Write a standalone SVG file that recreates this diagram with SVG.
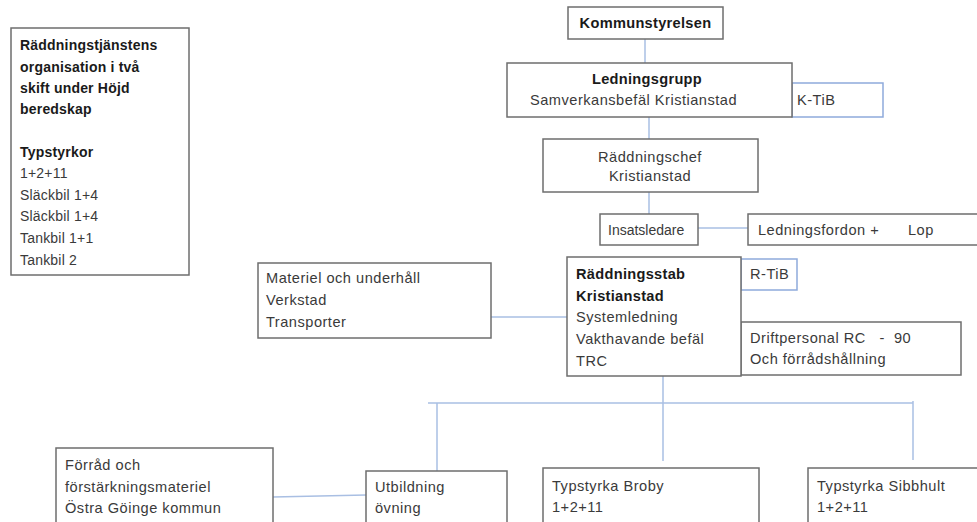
<svg xmlns="http://www.w3.org/2000/svg" width="977" height="522" viewBox="0 0 977 522">
<style>
  .box{fill:#fff;stroke:#6e6e6e;stroke-width:1.5}
  .bbox{fill:#fff;stroke:#8eaadb;stroke-width:1.5}
  .con{stroke:#a9bfe3;stroke-width:1.5;fill:none}
  text{font-family:"Liberation Sans",Arial,sans-serif;font-size:14.6px;fill:#3a3a3a;letter-spacing:0.5px}
  .b{font-weight:bold;fill:#1a1a1a;letter-spacing:0.3px}
  .s{font-size:14px;letter-spacing:0.2px}
  .m{text-anchor:middle}
</style>
<rect width="977" height="522" fill="#fff"/>
<g id="connectors">
  <line class="con" x1="645" y1="39" x2="645" y2="63"/>
  <line class="con" x1="649" y1="117" x2="649" y2="139"/>
  <line class="con" x1="649" y1="192" x2="649" y2="214"/>
  <line class="con" x1="698" y1="228" x2="748" y2="228"/>
  <line class="con" x1="491" y1="317" x2="567" y2="317"/>
  <line class="con" x1="663" y1="376" x2="663" y2="461"/>
  <line class="con" x1="428" y1="403" x2="913" y2="403"/>
  <line class="con" x1="437" y1="403" x2="437" y2="471"/>
  <line class="con" x1="913" y1="401" x2="913" y2="460"/>
  <line class="con" x1="273" y1="497" x2="366" y2="495"/>
</g>
<g id="info">
  <rect class="box" x="11" y="28" width="178" height="247"/>
  <text class="b s" x="20" y="50">Räddningstjänstens</text>
  <text class="b s" x="20" y="72">organisation i två</text>
  <text class="b s" x="20" y="93">skift under Höjd</text>
  <text class="b s" x="20" y="114">beredskap</text>
  <text class="b s" x="20" y="157">Typstyrkor</text>
  <text class="s" x="20" y="178">1+2+11</text>
  <text class="s" x="20" y="200">Släckbil 1+4</text>
  <text class="s" x="20" y="221">Släckbil 1+4</text>
  <text class="s" x="20" y="243">Tankbil 1+1</text>
  <text class="s" x="20" y="265">Tankbil 2</text>
</g>
<g id="kommunstyrelsen">
  <rect class="box" x="568" y="7" width="155" height="32"/>
  <text class="b m" x="645.5" y="28">Kommunstyrelsen</text>
</g>
<g id="ktib">
  <rect class="bbox" x="792" y="83" width="91" height="34"/>
  <text x="797" y="105">K-TiB</text>
</g>
<g id="ledningsgrupp">
  <rect class="box" x="507" y="63" width="285" height="54"/>
  <text class="b m" x="647" y="84">Ledningsgrupp</text>
  <text x="530" y="105">Samverkansbefäl Kristianstad</text>
</g>
<g id="raddningschef">
  <rect class="box" x="543" y="139" width="215" height="53"/>
  <text class="m" x="650" y="162">Räddningschef</text>
  <text class="m" x="650" y="181">Kristianstad</text>
</g>
<g id="insatsledare">
  <rect class="box" x="600" y="214" width="98" height="31"/>
  <text x="608" y="235" style="letter-spacing:0px;font-size:14px">Insatsledare</text>
</g>
<g id="ledningsfordon">
  <rect class="box" x="748" y="214" width="240" height="31"/>
  <text x="758" y="235">Ledningsfordon +</text>
  <text x="908" y="235">Lop</text>
</g>
<g id="materiel">
  <rect class="box" x="258" y="263" width="233" height="75"/>
  <text x="266" y="283">Materiel och underhåll</text>
  <text x="266" y="305">Verkstad</text>
  <text x="266" y="327">Transporter</text>
</g>
<g id="rtib">
  <rect class="bbox" x="741" y="259" width="56" height="31"/>
  <text x="750" y="279">R-TiB</text>
</g>
<g id="driftpersonal">
  <rect class="box" x="741" y="322" width="220" height="53"/>
  <text x="750" y="343" xml:space="preserve">Driftpersonal RC   -  90</text>
  <text x="750" y="364">Och förrådshållning</text>
</g>
<g id="raddningsstab">
  <rect class="box" x="567" y="257" width="174" height="119"/>
  <text class="b" x="576" y="279">Räddningsstab</text>
  <text class="b" x="576" y="301">Kristianstad</text>
  <text x="576" y="322">Systemledning</text>
  <text x="576" y="344">Vakthavande befäl</text>
  <text x="576" y="366">TRC</text>
</g>
<g id="forrad">
  <rect class="box" x="56" y="448" width="217" height="90"/>
  <text x="65" y="470">Förråd och</text>
  <text x="65" y="492">förstärkningsmateriel</text>
  <text x="65" y="513">Östra Göinge kommun</text>
</g>
<g id="utbildning">
  <rect class="box" x="366" y="471" width="141" height="70"/>
  <text x="375" y="492">Utbildning</text>
  <text x="375" y="513">övning</text>
</g>
<g id="broby">
  <rect class="box" x="543" y="468" width="216" height="70"/>
  <text x="552" y="491">Typstyrka Broby</text>
  <text x="552" y="512">1+2+11</text>
</g>
<g id="sibbhult">
  <rect class="box" x="808" y="468" width="180" height="70"/>
  <text x="817" y="491">Typstyrka Sibbhult</text>
  <text x="817" y="512">1+2+11</text>
</g>
</svg>
